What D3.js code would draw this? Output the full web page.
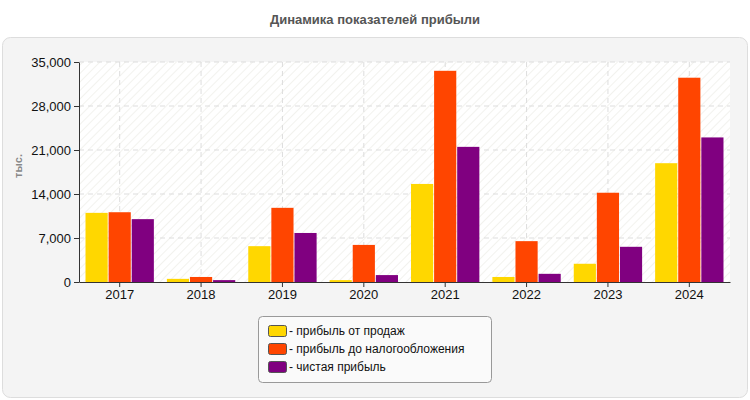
<!DOCTYPE html><html><head><meta charset="utf-8"><script src="https://cdn.jsdelivr.net/npm/d3@7"></script>
<style>body{margin:0;background:#fff;font-family:"Liberation Sans",Arial,sans-serif}</style></head><body><svg id="c" width="750" height="400"></svg>
<script>
const years=["2017","2018","2019","2020","2021","2022","2023","2024"];
const seriesNames=["прибыль от продаж","прибыль до налогообложения","чистая прибыль"];
const colors=["#FFD700","#FF4500","#800080"];
const sales=[11000,500,5700,300,15600,800,2900,18900];
const pretax=[11100,800,11800,5900,33600,6500,14200,32500];
const net=[10000,300,7800,1100,21500,1300,5600,23000];
const yTicks=[0,7000,14000,21000,28000,35000];
const series=[sales,pretax,net];
const svg=d3.select("#c");
const defs=svg.append("defs");
const pat=defs.append("pattern").attr("id","h").attr("width",6).attr("height",6).attr("patternUnits","userSpaceOnUse").attr("patternTransform","rotate(45)");
pat.append("rect").attr("width",6).attr("height",6).attr("fill","#fff");
pat.append("line").attr("x1",0).attr("y1",0).attr("x2",0).attr("y2",6).attr("stroke","#f2f2ee").attr("stroke-width",2);
svg.append("text").attr("x",375).attr("y",24).attr("text-anchor","middle").attr("font-size",13).attr("font-weight","bold").attr("fill","#555").text("Динамика показателей прибыли");
svg.append("rect").attr("x",2.5).attr("y",37.5).attr("width",745).attr("height",360).attr("rx",8).attr("fill","#f4f4f4").attr("stroke","#ddd");
const L=79,R=730,T=62,B=282;
const x=d3.scaleBand().domain(years).range([L,R]).paddingInner(0.16).paddingOuter(0.08);
const xs=d3.scaleBand().domain([0,1,2]).range([0,x.bandwidth()]).paddingInner(0.04);
const y=d3.scaleLinear().domain([0,35000]).range([B,T]);
svg.append("rect").attr("x",L).attr("y",T).attr("width",R-L).attr("height",B-T).attr("fill","url(#h)");
const xg=d3.scaleBand().domain(years).range([L,R]);
svg.append("g").selectAll("line").data(yTicks.slice(1)).join("line").attr("x1",L).attr("x2",R).attr("y1",d=>y(d)).attr("y2",d=>y(d)).attr("stroke","#ddd").attr("stroke-dasharray","5,4");
svg.append("g").selectAll("line").data(years).join("line").attr("x1",d=>xg(d)+xg.bandwidth()/2).attr("x2",d=>xg(d)+xg.bandwidth()/2).attr("y1",T).attr("y2",B).attr("stroke","#ddd").attr("stroke-dasharray","5,4");
series.forEach((s,i)=>{
 svg.append("g").selectAll("rect").data(s).join("rect").attr("x",(d,j)=>x(years[j])+xs(i)).attr("width",xs.bandwidth()).attr("y",d=>y(d)).attr("height",d=>B-y(d)).attr("fill",colors[i]);
});
const ya=svg.append("g").attr("transform",`translate(${L},0)`).call(d3.axisLeft(y).tickValues(yTicks).tickSize(5).tickSizeOuter(0));
const xa=svg.append("g").attr("transform",`translate(0,${B})`).call(d3.axisBottom(xg).tickSize(5).tickSizeOuter(0));
[ya,xa].forEach(a=>{a.selectAll("text").attr("font-size",13).attr("fill","#111").attr("font-family","Liberation Sans, Arial");a.selectAll("path,line").attr("stroke","#333");});
svg.append("text").attr("transform","translate(22,166) rotate(-90)").attr("text-anchor","middle").attr("font-size",11).attr("font-weight","bold").attr("fill","#888").text("тыс.");
const lg=svg.append("g");
lg.append("rect").attr("x",258.5).attr("y",316.5).attr("width",233).attr("height",66).attr("rx",4).attr("fill","#fafafa").attr("stroke","#999");
seriesNames.forEach((n,i)=>{
 lg.append("rect").attr("x",268.5).attr("y",325.5+i*18).attr("width",18).attr("height",11).attr("rx",2).attr("fill",colors[i]).attr("stroke","#555");
 lg.append("text").attr("x",289).attr("y",335+i*18).attr("font-size",12).attr("fill","#111").text("- "+n);
});
</script></body></html>
